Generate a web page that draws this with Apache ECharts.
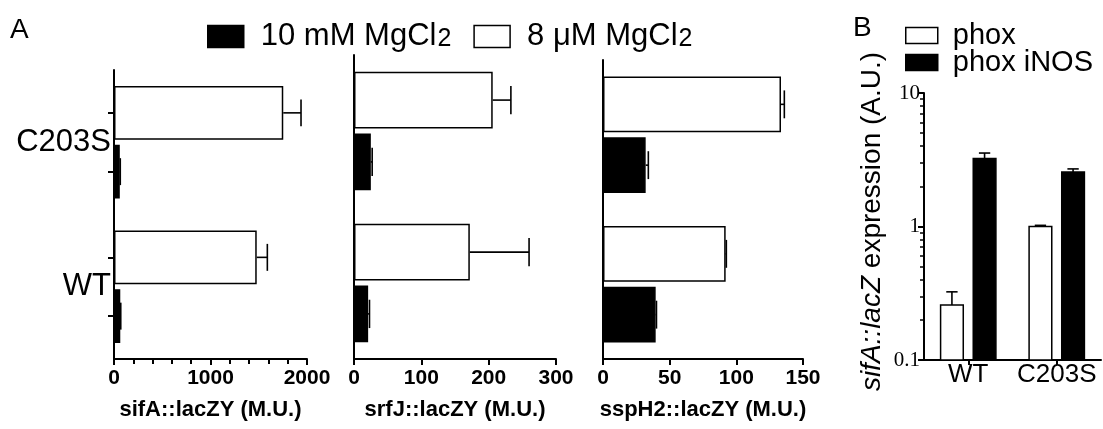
<!DOCTYPE html>
<html><head><meta charset="utf-8">
<script src="https://cdn.jsdelivr.net/npm/echarts@6/dist/echarts.min.js"></script>
<style>html,body{margin:0;padding:0;background:#fff}#c{width:1103px;height:429px}</style>
</head><body><div id="c"></div>
<script>
// ---------- data ----------
const strainsA = ['WT', 'C203S'];            // bottom to top
const sifA_hi = [65, 60];      const sifA_hi_err = [5, 5];
const sifA_lo = [1479, 1754];  const sifA_lo_err = [110, 184];
const srfJ_hi = [21, 25];      const srfJ_hi_err = [2, 2];
const srfJ_lo = [172, 206];    const srfJ_lo_err = [88, 27];
const sspH2_hi = [39.5, 32];   const sspH2_hi_err = [0.6, 2];
const sspH2_lo = [92, 133.5];  const sspH2_lo_err = [0.5, 2.5];
const axisMaxA = [2000, 300, 150];
const axisStepA = [1000, 100, 50];
const axisNamesA = ['sifA::lacZY (M.U.)', 'srfJ::lacZY (M.U.)', 'sspH2::lacZY (M.U.)'];

const strainsB = ['WT', 'C203S'];
const phox = [0.258, 1.0];       const phox_err = [0.066, 0.02];
const phoxINOS = [3.23, 2.56];   const phoxINOS_err = [0.32, 0.14];
const logMinB = 0.1, logMaxB = 10;
const minorTicksB = [0.2, 0.3, 0.4, 0.5, 0.6, 0.7, 0.8, 0.9, 2, 3, 4, 5, 6, 7, 8, 9];

const nameHi = '10 mM MgCl2';
const nameLo = '8 \u03bcM MgCl2';

// ---------- layout ----------
const FONT = 'Liberation Sans, Arial, Helvetica, sans-serif';
const catGapA = 0.22, barGapA = 0.09;
const barFracA = (1 - catGapA) / (2 + barGapA);
const offFracA = barFracA * (1 + barGapA) / 2;
const catGapB = 0.375, barGapB = 0.44;
const barFracB = (1 - catGapB) / (2 + barGapB);
const offFracB = barFracB * (1 + barGapB) / 2;

const grids = [
  {left: 114, top: 70, width: 193, height: 289},
  {left: 354, top: 55, width: 202, height: 304},
  {left: 603, top: 60, width: 200, height: 299},
  {left: 924, top: 93, width: 177, height: 267}
];

const panelsA = [
  {hi: sifA_hi, hiErr: sifA_hi_err, lo: sifA_lo, loErr: sifA_lo_err},
  {hi: srfJ_hi, hiErr: srfJ_hi_err, lo: srfJ_lo, loErr: srfJ_lo_err},
  {hi: sspH2_hi, hiErr: sspH2_hi_err, lo: sspH2_lo, loErr: sspH2_lo_err}
];

const lineStyle = {color: '#000', width: 2};
const xAxes = [], yAxes = [], series = [];

function hErr(sign) {
  return function (params, api) {
    const v = api.value(0), cat = api.value(1), e = api.value(2);
    const p0 = api.coord([v, cat]);
    const p1 = api.coord([v + e, cat]);
    const band = api.size([0, 1])[1];
    const y = p0[1] + sign * offFracA * band;
    const h = barFracA * band / 4;
    const st = {stroke: '#000', lineWidth: 1.6};
    return {type: 'group', children: [
      {type: 'line', shape: {x1: p0[0], y1: y, x2: p1[0], y2: y}, style: st},
      {type: 'line', shape: {x1: p1[0], y1: y - h, x2: p1[0], y2: y + h}, style: st}
    ]};
  };
}
function vBar(sign, fill) {
  return function (params, api) {
    const cat = api.value(0), v = api.value(1);
    const base = api.coord([cat, logMinB]);
    const top = api.coord([cat, v]);
    const band = api.size([1, 0])[0];
    const w = barFracB * band;
    const cx = base[0] + sign * offFracB * band;
    return {type: 'rect', shape: {x: cx - w / 2, y: top[1], width: w, height: base[1] - top[1]},
      style: {fill: fill, stroke: '#000', lineWidth: 1.5}};
  };
}
function vErr(sign) {
  return function (params, api) {
    const cat = api.value(0), v = api.value(1), e = api.value(2);
    const p0 = api.coord([cat, v]);
    const p1 = api.coord([cat, v + e]);
    const band = api.size([1, 0])[0];
    const x = p0[0] + sign * offFracB * band;
    const w = barFracB * band / 4;
    const st = {stroke: '#000', lineWidth: 1.6};
    return {type: 'group', children: [
      {type: 'line', shape: {x1: x, y1: p0[1], x2: x, y2: p1[1]}, style: st},
      {type: 'line', shape: {x1: x - w, y1: p1[1], x2: x + w, y2: p1[1]}, style: st}
    ]};
  };
}

const tickPosA = [0.5 - offFracA, 0.5 + offFracA, 1.5 - offFracA, 1.5 + offFracA];

panelsA.forEach((p, i) => {
  xAxes.push({
    type: 'value', gridIndex: i, min: 0, max: axisMaxA[i], interval: axisStepA[i],
    axisLine: {show: true, lineStyle: lineStyle},
    axisTick: {show: true, length: 6, lineStyle: lineStyle},
    minorTick: {show: i === 0, splitNumber: 5, length: 5, lineStyle: {color: '#000', width: 2}},
    splitLine: {show: false},
    axisLabel: {color: '#000', fontFamily: FONT, fontWeight: 'bold', fontSize: 21, margin: 9,
      formatter: function (v) { return String(v); }},
    name: axisNamesA[i], nameLocation: 'middle', nameGap: 40,
    nameTextStyle: {color: '#000', fontFamily: FONT, fontWeight: 'bold', fontSize: 22}
  });
  yAxes.push({
    type: 'category', gridIndex: i, data: strainsA,
    axisLine: {show: true, lineStyle: lineStyle},
    axisTick: {show: false},
    axisLabel: {show: i === 0, color: '#000', fontFamily: FONT, fontSize: 31, margin: 3},
    splitLine: {show: false}
  });
  const yi = yAxes.length - 1;
  // first series is drawn at the top of each category band
  series.push({
    name: nameLo, type: 'bar', xAxisIndex: i, yAxisIndex: yi, data: p.lo,
    barCategoryGap: (catGapA * 100) + '%', barGap: (barGapA * 100) + '%',
    itemStyle: {color: '#fff', borderColor: '#000', borderWidth: 1.5}
  });
  series.push({
    name: nameHi, type: 'bar', xAxisIndex: i, yAxisIndex: yi, data: p.hi,
    barCategoryGap: (catGapA * 100) + '%', barGap: (barGapA * 100) + '%',
    itemStyle: {color: '#000', borderColor: '#000', borderWidth: 1.5}
  });
  series.push({
    name: 'errHi' + i, type: 'custom', xAxisIndex: i, yAxisIndex: yi, renderItem: hErr(1),
    encode: {x: 0, y: 1}, data: p.hi.map((v, k) => [v, k, p.hiErr[k]]), z: 5
  });
  series.push({
    name: 'errLo' + i, type: 'custom', xAxisIndex: i, yAxisIndex: yi, renderItem: hErr(-1),
    encode: {x: 0, y: 1}, data: p.lo.map((v, k) => [v, k, p.loErr[k]]), z: 5
  });
});

// tick helper axis for panel A1 (ticks at each bar centre)
yAxes.push({
  type: 'value', gridIndex: 0, min: 0, max: 2, position: 'left',
  axisLine: {show: false}, axisLabel: {show: false}, splitLine: {show: false},
  axisTick: {show: true, length: 6, customValues: tickPosA, lineStyle: lineStyle}
});

// panel B
xAxes.push({
  type: 'category', gridIndex: 3, data: strainsB,
  axisLine: {show: true, lineStyle: lineStyle},
  axisTick: {show: true, alignWithLabel: true, length: 5, lineStyle: lineStyle},
  axisLabel: {color: '#000', fontFamily: FONT, fontSize: 26, margin: 2, interval: 0},
  splitLine: {show: false}
});
yAxes.push({
  type: 'log', logBase: 10, gridIndex: 3, min: logMinB, max: logMaxB,
  axisLine: {show: true, lineStyle: lineStyle},
  axisTick: {show: true, length: 6, lineStyle: lineStyle},
  splitLine: {show: false},
  axisLabel: {color: '#000', fontFamily: 'Liberation Serif, Times New Roman, serif', fontSize: 21, margin: 4},
  name: '{i|sifA::lacZ} expression (A.U.)', nameLocation: 'middle', nameGap: 38,
  nameTextStyle: {color: '#000', fontFamily: FONT, fontSize: 28, padding: [0, 0, 0, 10],
    rich: {i: {fontStyle: 'italic', fontFamily: FONT, fontSize: 28, color: '#000'}}}
});
const xB = xAxes.length - 1, yB = yAxes.length - 1;
// minor log ticks helper axis
yAxes.push({
  type: 'log', logBase: 10, gridIndex: 3, min: logMinB, max: logMaxB, position: 'left',
  axisLine: {show: false}, axisLabel: {show: false}, splitLine: {show: false},
  axisTick: {show: true, length: 4, customValues: minorTicksB, lineStyle: {color: '#000', width: 1.5}}
});
series.push({
  name: 'phox', type: 'custom', xAxisIndex: xB, yAxisIndex: yB, renderItem: vBar(-1, '#fff'),
  encode: {x: 0, y: 1}, data: phox.map((v, k) => [k, v]),
  itemStyle: {color: '#fff', borderColor: '#000', borderWidth: 1.5}
});
series.push({
  name: 'phox iNOS', type: 'custom', xAxisIndex: xB, yAxisIndex: yB, renderItem: vBar(1, '#000'),
  encode: {x: 0, y: 1}, data: phoxINOS.map((v, k) => [k, v]),
  itemStyle: {color: '#000', borderColor: '#000', borderWidth: 1.5}
});
series.push({
  name: 'errB0', type: 'custom', xAxisIndex: xB, yAxisIndex: yB, renderItem: vErr(-1),
  encode: {x: 0, y: 1}, data: phox.map((v, k) => [k, v, phox_err[k]]), z: 5
});
series.push({
  name: 'errB1', type: 'custom', xAxisIndex: xB, yAxisIndex: yB, renderItem: vErr(1),
  encode: {x: 0, y: 1}, data: phoxINOS.map((v, k) => [k, v, phoxINOS_err[k]]), z: 5
});

const legendBText = {color: '#000', fontFamily: FONT, fontSize: 29, padding: [0, 0, 0, 10]};
const option = {
  animation: false,
  backgroundColor: '#fff',
  title: [
    {text: 'A', left: 10, top: 16, padding: 0, textStyle: {fontFamily: FONT, fontSize: 28, fontWeight: 'normal', color: '#000'}},
    {text: 'B', left: 853, top: 14, padding: 0, textStyle: {fontFamily: FONT, fontSize: 28, fontWeight: 'normal', color: '#000'}}
  ],
  legend: [
    {
      data: [
        {name: nameHi, icon: 'rect', itemStyle: {color: '#000', borderColor: '#000', borderWidth: 1.5}},
        {name: nameLo, icon: 'rect', itemStyle: {color: '#fff', borderColor: '#000', borderWidth: 1.5}}
      ],
      left: 207, top: 13, orient: 'horizontal', padding: 0,
      itemWidth: 36, itemHeight: 22, itemGap: 22, selectedMode: false,
      formatter: function (n) { return n === nameHi ? '{t|10 mM MgCl}{s|2}' : '{t|8 \u03bcM MgCl}{s|2}'; },
      textStyle: {color: '#000', fontFamily: FONT, fontSize: 31,
        rich: {
          t: {fontFamily: FONT, fontSize: 31, lineHeight: 31, verticalAlign: 'top', padding: [0, 0, 0, 12], color: '#000'},
          s: {fontFamily: FONT, fontSize: 25, lineHeight: 25, verticalAlign: 'bottom', padding: [14, 0, 0, 1], color: '#000'}
        }}
    },
    {
      data: [{name: 'phox', icon: 'rect', itemStyle: {color: '#fff', borderColor: '#000', borderWidth: 1.5}}],
      left: 905, top: 21, padding: 0, itemWidth: 32, itemHeight: 16, selectedMode: false,
      textStyle: legendBText
    },
    {
      data: [{name: 'phox iNOS', icon: 'rect', itemStyle: {color: '#000', borderColor: '#000', borderWidth: 1.5}}],
      left: 905, top: 48, padding: 0, itemWidth: 32, itemHeight: 16, selectedMode: false,
      textStyle: legendBText
    }
  ],
  grid: grids,
  xAxis: xAxes,
  yAxis: yAxes,
  series: series
};
const chart = echarts.init(document.getElementById('c'), null, {renderer: 'canvas'});
chart.setOption(option);
</script></body></html>
